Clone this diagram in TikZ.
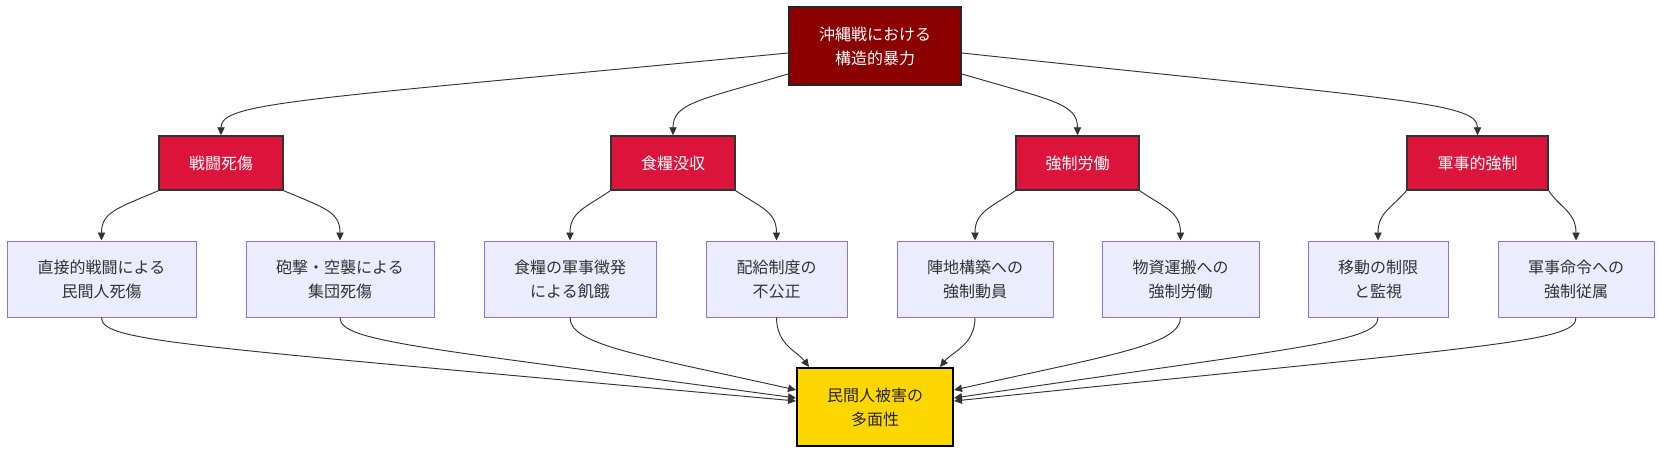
\documentclass[tikz,border=0pt]{standalone}
\usepackage{fontspec}
\setmainfont{Noto Sans CJK JP}
\usetikzlibrary{arrows.meta,calc}
\definecolor{topred}{HTML}{8B0000}
\definecolor{midred}{HTML}{DC143C}
\definecolor{leaffill}{HTML}{ECECFF}
\definecolor{leafdraw}{HTML}{9370DB}
\definecolor{goldfill}{HTML}{FFD700}
\definecolor{edgecol}{HTML}{333333}
\begin{document}
\begin{tikzpicture}[x=0.75pt,y=-0.75pt,
  every node/.style={font=\fontsize{12pt}{18pt}\selectfont, align=center, inner sep=0pt},
  sz/.style 2 args={minimum width=#1*0.75pt, minimum height=#2*0.75pt},
  topbox/.style={draw=black!85, line width=1.5pt, fill=topred, text=white},
  midbox/.style={draw=black!80, line width=1.1pt, fill=midred, text=white},
  leafbox/.style={draw=leafdraw, line width=0.75pt, fill=leaffill, text=black!80},
  botbox/.style={draw=black, line width=1.5pt, fill=goldfill, text=black!85},
  conn/.style={draw=edgecol, line width=0.7pt, -{Triangle[length=6pt,width=5.5pt]}}
]
\useasboundingbox[fill=white] (0,0) rectangle (1662,454);

\node[topbox, sz={172}{78}] (top) at (875,46) {沖縄戦における\\構造的暴力};

\node[midbox, sz={124}{54}] (m1) at (221,163) {戦闘死傷};
\node[midbox, sz={124}{54}] (m2) at (673,163) {食糧没収};
\node[midbox, sz={123}{54}] (m3) at (1077.5,163) {強制労働};
\node[midbox, sz={141}{54}] (m4) at (1477.5,163) {軍事的強制};

\node[leafbox, sz={189}{76}] (l1) at (101.5,279) {直接的戦闘による\\民間人死傷};
\node[leafbox, sz={188}{76}] (l2) at (340,279) {砲撃・空襲による\\集団死傷};
\node[leafbox, sz={172}{76}] (l3) at (570,279) {食糧の軍事徴発\\による飢餓};
\node[leafbox, sz={141}{76}] (l4) at (776.5,279) {配給制度の\\不公正};
\node[leafbox, sz={156}{76}] (l5) at (975,279) {陣地構築への\\強制動員};
\node[leafbox, sz={157}{76}] (l6) at (1180.5,279) {物資運搬への\\強制労働};
\node[leafbox, sz={140}{76}] (l7) at (1378,279) {移動の制限\\と監視};
\node[leafbox, sz={156}{76}] (l8) at (1576,279) {軍事命令への\\強制従属};

\node[botbox, sz={156}{78}] (bot) at (875,407) {民間人被害の\\多面性};

% top to mid
\draw[conn] ($(top.west)+(0,7)$) .. controls (300,100) and (221,102) .. (m1.north);
\draw[conn] ($(top.west)+(0,28)$) .. controls (700,100) and (673,103) .. (m2.north);
\draw[conn] ($(top.east)+(0,28)$) .. controls (1050,100) and (1077.5,103) .. (m3.north);
\draw[conn] ($(top.east)+(0,7)$) .. controls (1400,100) and (1477.5,102) .. (m4.north);

% mid to leaves
\draw[conn] (m1.south west) .. controls (118,208) and (101.5,212) .. (l1.north);
\draw[conn] (m1.south east) .. controls (325,208) and (340,212) .. (l2.north);
\draw[conn] (m2.south west) .. controls (585,208) and (570,212) .. (l3.north);
\draw[conn] (m2.south east) .. controls (762,208) and (776.5,212) .. (l4.north);
\draw[conn] (m3.south west) .. controls (990,208) and (975,212) .. (l5.north);
\draw[conn] (m3.south east) .. controls (1165,208) and (1180.5,212) .. (l6.north);
\draw[conn] (m4.south west) .. controls (1392,208) and (1378,212) .. (l7.north);
\draw[conn] (m4.south east) .. controls (1560,208) and (1576,212) .. (l8.north);

% leaves to bottom
\draw[conn] (l1.south) .. controls (101.5,342) and (180,345) .. ($(bot.west)+(0,-6)$);
\draw[conn] (l2.south) .. controls (340,342) and (420,347) .. ($(bot.west)+(0,-9)$);
\draw[conn] (l3.south) .. controls (570,345) and (640,355) .. ($(bot.west)+(0,-17)$);
\draw[conn] (l4.south) .. controls (776.5,345) and (798,352) .. ($(bot.north west)+(13,0)$);
\draw[conn] (l5.south) .. controls (975,345) and (952,352) .. ($(bot.north east)+(-14,0)$);
\draw[conn] (l6.south) .. controls (1180.5,345) and (1110,355) .. ($(bot.east)+(0,-17)$);
\draw[conn] (l7.south) .. controls (1378,342) and (1300,347) .. ($(bot.east)+(0,-9)$);
\draw[conn] (l8.south) .. controls (1576,342) and (1500,345) .. ($(bot.east)+(0,-6)$);
\end{tikzpicture}
\end{document}
